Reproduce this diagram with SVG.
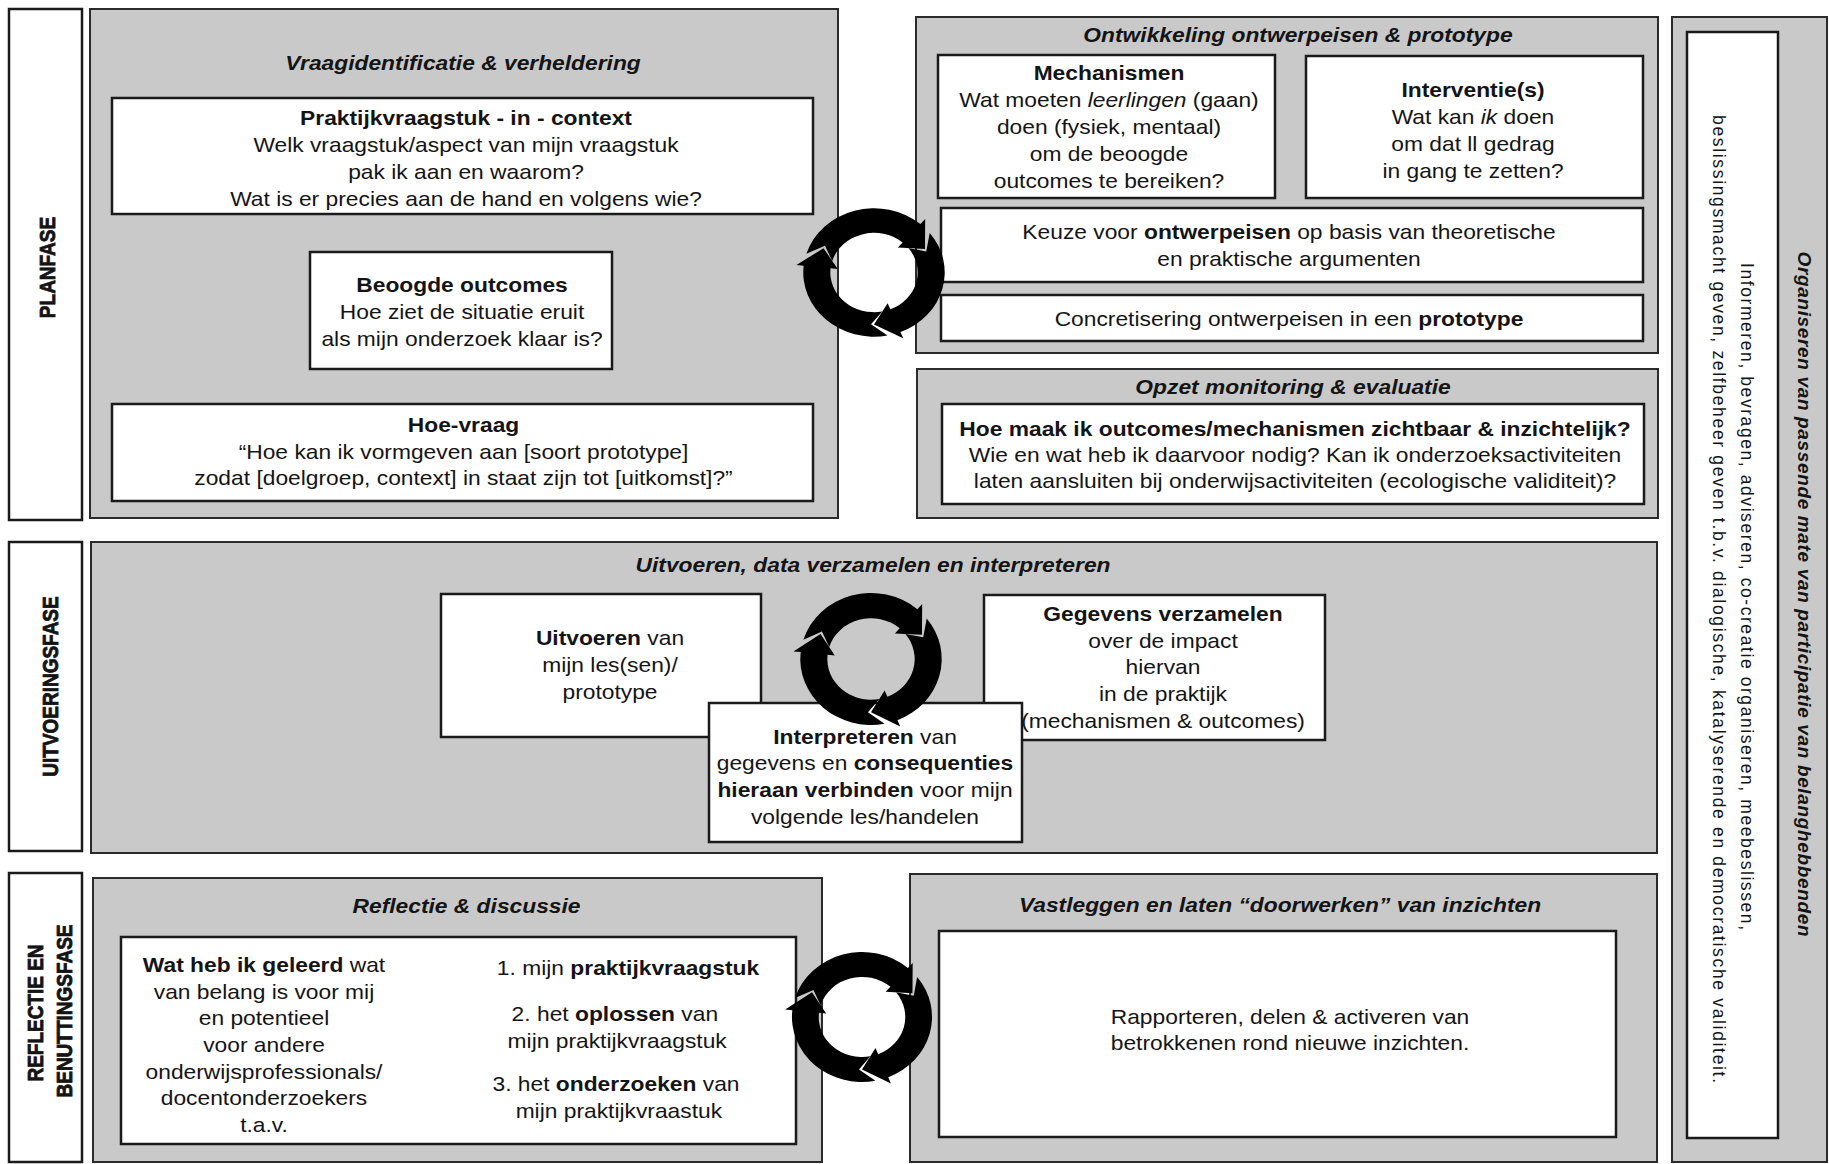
<svg xmlns="http://www.w3.org/2000/svg" xmlns:xlink="http://www.w3.org/1999/xlink" width="1829" height="1164" viewBox="0 0 1829 1164">
<style>
.panel{fill:#c9c9c9;stroke:#2b2b2b;stroke-width:2}
.box{fill:#fff;stroke:#1a1a1a;stroke-width:2.5}
.phase{fill:#fff;stroke:#1a1a1a;stroke-width:2.5}
text{font-family:"Liberation Sans",Arial,sans-serif;fill:#141414}
.t{font-size:20px;text-anchor:middle}
.b{font-weight:bold}
.bi{font-weight:bold;font-style:italic}
.i{font-style:italic}
.ph{font-size:19px;font-weight:bold;text-anchor:middle;stroke:#141414;stroke-width:0.7}
.v{font-size:17.5px;text-anchor:middle}
.cyc{fill:#000}
</style>
<defs>
<g id="cycle">
<path class="cyc" d="M-65.03,-19.88 A68,68 0 0 1 44.61,-51.32 L49.21,-56.6 L49.01,-24.97 L22.96,-26.41 L27.56,-31.7 A42,42 0 0 0 -40.16,-12.28 L-47.15,-28.33 Z"/>
<path class="cyc" d="M53.58,-41.87 A68,68 0 0 1 25.47,63.05 L28.1,69.54 L0,55 L13.11,32.45 L15.73,38.94 A42,42 0 0 0 33.1,-25.86 L50.24,-22.37 Z"/>
<path class="cyc" d="M12.97,66.75 A68,68 0 0 1 -67.63,-7.11 L-74.59,-7.84 L-48.56,-25.82 L-34.81,-3.66 L-41.77,-4.39 A42,42 0 0 0 8.01,41.23 L-2.88,54.92 Z"/>
</g>
</defs>
<rect x="0" y="0" width="1829" height="1164" fill="#fff"/>

<!-- phase labels -->
<g id="planfase">
<rect class="phase" x="9" y="9" width="73" height="511"/>
<text class="ph" transform="translate(46.5,267.5) rotate(-90) scale(1,1.2)" y="6.8">PLANFASE</text>
</g>
<g id="uitvoeringsfase">
<rect class="phase" x="9" y="542" width="73" height="309"/>
<text class="ph" transform="translate(50,686.5) rotate(-90) scale(1,1.2)" y="6.8">UITVOERINGSFASE</text>
</g>
<g id="reflectiefase">
<rect class="phase" x="9" y="873" width="73" height="289"/>
<text class="ph" transform="translate(35,1013) rotate(-90) scale(1,1.2)" y="6.8">REFLECTIE EN</text>
<text class="ph" transform="translate(64,1011) rotate(-90) scale(1,1.2)" y="6.8">BENUTTINGSFASE</text>
</g>

<!-- plan panel -->
<g id="vraagidentificatie">
<rect class="panel" x="90" y="9" width="748" height="509"/>
<g transform="matrix(1.14,0,0,1,463,0)"><text class="t bi" y="70">Vraagidentificatie &amp; verheldering</text></g>
</g>
<g id="praktijkvraagstuk">
<rect class="box" x="112" y="98" width="701" height="116"/>
<g transform="matrix(1.14,0,0,1,466,0)">
<text class="t b" y="125">Praktijkvraagstuk - in - context</text>
<text class="t" y="152">Welk vraagstuk/aspect van mijn vraagstuk</text>
<text class="t" y="179">pak ik aan en waarom?</text>
<text class="t" y="206">Wat is er precies aan de hand en volgens wie?</text>
</g>
</g>
<g id="beoogde-outcomes">
<rect class="box" x="310" y="252" width="302" height="117"/>
<g transform="matrix(1.14,0,0,1,462,0)">
<text class="t b" y="292.5">Beoogde outcomes</text>
<text class="t" y="319.5">Hoe ziet de situatie eruit</text>
<text class="t" y="346">als mijn onderzoek klaar is?</text>
</g>
</g>
<g id="hoe-vraag">
<rect class="box" x="112" y="404" width="701" height="97"/>
<g transform="matrix(1.14,0,0,1,463.5,0)">
<text class="t b" y="432">Hoe-vraag</text>
<text class="t" y="459">“Hoe kan ik vormgeven aan [soort prototype]</text>
<text class="t" y="485">zodat [doelgroep, context] in staat zijn tot [uitkomst]?”</text>
</g>
</g>

<!-- ontwikkeling panel -->
<g id="ontwikkeling">
<rect class="panel" x="916" y="17" width="742" height="336"/>
<g transform="matrix(1.14,0,0,1,1298,0)"><text class="t bi" y="42.5">Ontwikkeling ontwerpeisen &amp; prototype</text></g>
</g>
<g id="mechanismen">
<rect class="box" x="938" y="55" width="337" height="143"/>
<g transform="matrix(1.14,0,0,1,1109,0)">
<text class="t b" y="79.7">Mechanismen</text>
<text class="t" y="107.4">Wat moeten <tspan class="i">leerlingen</tspan> (gaan)</text>
<text class="t" y="134.5">doen (fysiek, mentaal)</text>
<text class="t" y="160.8">om de beoogde</text>
<text class="t" y="188">outcomes te bereiken?</text>
</g>
</g>
<g id="interventies">
<rect class="box" x="1306" y="56" width="337" height="142"/>
<g transform="matrix(1.14,0,0,1,1473,0)">
<text class="t b" y="96.6">Interventie(s)</text>
<text class="t" y="123.6">Wat kan <tspan class="i">ik</tspan> doen</text>
<text class="t" y="150.7">om dat ll gedrag</text>
<text class="t" y="177.7">in gang te zetten?</text>
</g>
</g>
<g id="keuze-ontwerpeisen">
<rect class="box" x="941" y="208" width="702" height="74"/>
<g transform="matrix(1.14,0,0,1,1289,0)">
<text class="t" y="238.6">Keuze voor <tspan class="b">ontwerpeisen</tspan> op basis van theoretische</text>
<text class="t" y="265.6">en praktische argumenten</text>
</g>
</g>
<g id="concretisering">
<rect class="box" x="941" y="295" width="702" height="46"/>
<g transform="matrix(1.14,0,0,1,1289,0)">
<text class="t" y="326.5">Concretisering ontwerpeisen in een <tspan class="b">prototype</tspan></text>
</g>
</g>

<!-- opzet panel -->
<g id="opzet">
<rect class="panel" x="917" y="369" width="741" height="149"/>
<g transform="matrix(1.14,0,0,1,1293,0)"><text class="t bi" y="394">Opzet monitoring &amp; evaluatie</text></g>
</g>
<g id="monitoring">
<rect class="box" x="942" y="404" width="702" height="100"/>
<g transform="matrix(1.14,0,0,1,1295,0)">
<text class="t b" y="435.7">Hoe maak ik outcomes/mechanismen zichtbaar &amp; inzichtelijk?</text>
<text class="t" y="462.4">Wie en wat heb ik daarvoor nodig? Kan ik onderzoeksactiviteiten</text>
<text class="t" y="488">laten aansluiten bij onderwijsactiviteiten (ecologische validiteit)?</text>
</g>
</g>

<!-- uitvoering panel -->
<g id="uitvoering">
<rect class="panel" x="91" y="542" width="1566" height="311"/>
<g transform="matrix(1.14,0,0,1,873,0)"><text class="t bi" y="572">Uitvoeren, data verzamelen en interpreteren</text></g>
</g>
<g id="uitvoeren">
<rect class="box" x="441" y="594" width="320" height="143"/>
<g transform="matrix(1.14,0,0,1,610,0)">
<text class="t" y="645"><tspan class="b">Uitvoeren</tspan> van</text>
<text class="t" y="672">mijn les(sen)/</text>
<text class="t" y="699">prototype</text>
</g>
</g>
<g id="gegevens">
<rect class="box" x="984" y="595" width="341" height="145"/>
<g transform="matrix(1.14,0,0,1,1163,0)">
<text class="t b" y="621">Gegevens verzamelen</text>
<text class="t" y="648">over de impact</text>
<text class="t" y="674">hiervan</text>
<text class="t" y="701">in de praktijk</text>
<text class="t" y="728">(mechanismen &amp; outcomes)</text>
</g>
</g>
<g id="interpreteren">
<rect class="box" x="709" y="703" width="313" height="139"/>
<g transform="matrix(1.14,0,0,1,865,0)">
<text class="t" y="744"><tspan class="b">Interpreteren</tspan> van</text>
<text class="t" y="770">gegevens en <tspan class="b">consequenties</tspan></text>
<text class="t" y="797"><tspan class="b">hieraan verbinden</tspan> voor mijn</text>
<text class="t" y="824">volgende les/handelen</text>
</g>
</g>

<!-- reflectie panel -->
<g id="reflectie">
<rect class="panel" x="93" y="878" width="729" height="284"/>
<g transform="matrix(1.14,0,0,1,466.5,0)"><text class="t bi" y="913">Reflectie &amp; discussie</text></g>
</g>
<g id="geleerd">
<rect class="box" x="121" y="937" width="675" height="207"/>
<g transform="matrix(1.14,0,0,1,264,0)">
<text class="t" y="972"><tspan class="b">Wat heb ik geleerd</tspan> wat</text>
<text class="t" y="999">van belang is voor mij</text>
<text class="t" y="1025">en potentieel</text>
<text class="t" y="1052">voor andere</text>
<text class="t" y="1079">onderwijsprofessionals/</text>
<text class="t" y="1105">docentonderzoekers</text>
<text class="t" y="1132">t.a.v.</text>
</g>
<g transform="matrix(1.14,0,0,1,616,0)">
<text class="t" x="10.5" y="975">1. mijn <tspan class="b">praktijkvraagstuk</tspan></text>
<text class="t" x="-1" y="1021">2. het <tspan class="b">oplossen</tspan> van</text>
<text class="t" x="1" y="1048">mijn praktijkvraagstuk</text>
<text class="t" x="0" y="1091">3. het <tspan class="b">onderzoeken</tspan> van</text>
<text class="t" x="2.5" y="1118">mijn praktijkvraastuk</text>
</g>
</g>

<!-- vastleggen panel -->
<g id="vastleggen">
<rect class="panel" x="910" y="874" width="747" height="288"/>
<g transform="matrix(1.14,0,0,1,1280,0)"><text class="t bi" y="912">Vastleggen en laten “doorwerken” van inzichten</text></g>
</g>
<g id="rapporteren">
<rect class="box" x="939" y="931" width="677" height="206"/>
<g transform="matrix(1.14,0,0,1,1290,0)">
<text class="t" y="1024">Rapporteren, delen &amp; activeren van</text>
<text class="t" y="1050">betrokkenen rond nieuwe inzichten.</text>
</g>
</g>

<!-- participatie panel -->
<g id="participatie">
<rect class="panel" x="1672" y="17" width="155" height="1145"/>
<rect class="box" x="1687" y="32" width="91" height="1106"/>
<text class="v" transform="translate(1747,596.5) rotate(90)" y="6.2" textLength="667" lengthAdjust="spacing">Informeren, bevragen, adviseren, co-creatie organiseren, meebeslissen,</text>
<text class="v" transform="translate(1719,599) rotate(90)" y="6.2" textLength="968" lengthAdjust="spacing">beslissingsmacht geven, zelfbeheer geven t.b.v. dialogische, katalyserende en democratische validiteit.</text>
<text class="bi" style="font-size:19px;text-anchor:middle" transform="translate(1805,594) rotate(90)" y="6.8" textLength="685" lengthAdjust="spacing">Organiseren van passende mate van participatie van belanghebbenden</text>
</g>

<!-- cycle connectors -->
<g id="connectors">
<use xlink:href="#cycle" href="#cycle" transform="translate(874,272.5) scale(1.04,0.944)"/>
<use xlink:href="#cycle" href="#cycle" transform="translate(871,659) scale(1.04,0.97)"/>
<use xlink:href="#cycle" href="#cycle" transform="translate(862,1017) scale(1.03,0.955)"/>
</g>
</svg>
